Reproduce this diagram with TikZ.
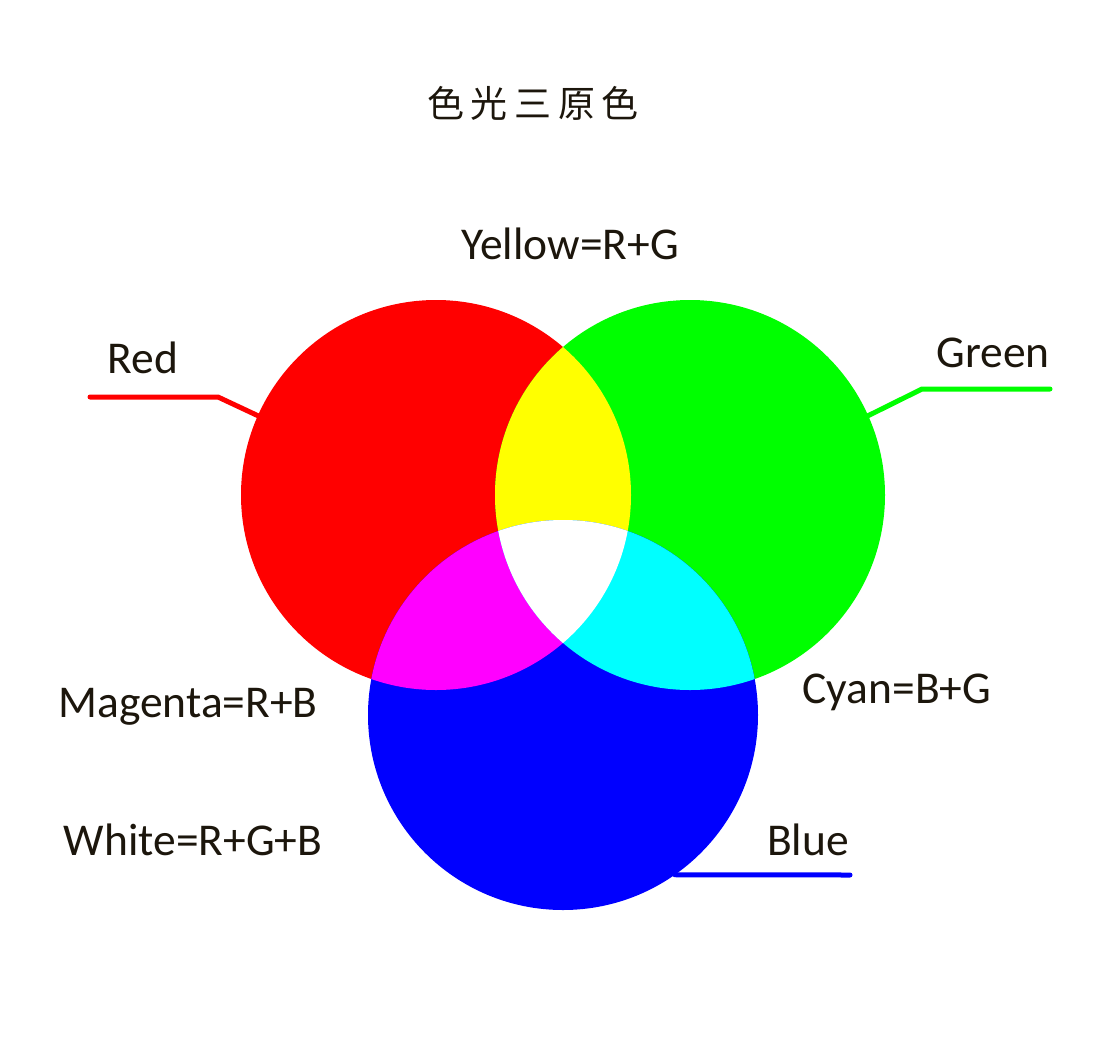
\documentclass[tikz,border=0pt]{standalone}
\usepackage{fontspec}
\setmainfont{Carlito}
\newfontfamily\cjk{Noto Sans CJK SC}
\definecolor{txt}{RGB}{28,22,12}
\definecolor{pR}{RGB}{255,0,0}
\definecolor{pG}{RGB}{0,255,0}
\definecolor{pB}{RGB}{0,0,255}
\definecolor{pY}{RGB}{255,255,0}
\definecolor{pM}{RGB}{255,0,255}
\definecolor{pC}{RGB}{0,255,255}
\tikzset{
  disk/.style={circle,draw=none,minimum size=390pt,inner sep=0pt,outer sep=0pt},
  lbl/.style={anchor=base,text=txt,inner sep=0pt,font=\fontsize{45.5}{54}\selectfont},
  leader/.style={line width=5pt,line cap=round,line join=round}
}
\begin{document}
\begin{tikzpicture}[x=1pt,y=-1pt]
\useasboundingbox (0,0) rectangle (1103,1050);
\fill[white] (0,0) rectangle (1103,1050);
% circles
\node[disk,fill=pR] (R) at (436,495) {};
\node[disk,fill=pG] (G) at (690,495) {};
\node[disk,fill=pB] (B) at (563,715) {};
% overlaps
\begin{scope}
  \clip (R.center) circle (195);
  \fill[pY] (G.center) circle (195);
\end{scope}
\begin{scope}
  \clip (R.center) circle (195);
  \fill[pM] (B.center) circle (195);
\end{scope}
\begin{scope}
  \clip (G.center) circle (195);
  \fill[pC] (B.center) circle (195);
\end{scope}
\begin{scope}
  \clip (R.center) circle (195);
  \clip (G.center) circle (195);
  \fill[white] (B.center) circle (195);
\end{scope}
% title
\node[anchor=center,text=txt,inner sep=0pt,font=\cjk\fontsize{37}{42}\selectfont] (title) at (533,103) {色\kern6.5pt 光\kern6.5pt 三\kern6.5pt 原\kern6.5pt 色};
% labels
\node[lbl] (lY) at (570,259) {Yellow=R+G};
\node[lbl] (lR) at (143,373) {Red};
\node[lbl] (lG) at (993,367) {Green};
\node[lbl] (lM) at (188,717) {Magenta=R+B};
\node[lbl] (lC) at (897,703) {Cyan=B+G};
\node[lbl] (lW) at (193,855) {White=R+G+B};
\node[lbl] (lB) at (808,855) {Blue};
% leader lines
\coordinate (rEnd) at (90,397);
\coordinate (rBend) at (218,397);
\coordinate (gEnd) at (1050,389);
\coordinate (gBend) at (922,389);
\coordinate (bEnd) at (850,875);
\draw[leader,pR] (rEnd) -- (rBend) -- (R.156);
\draw[leader,pG] (gEnd) -- (gBend) -- (G.24);
\draw[leader,pB] (bEnd) -- (B.-55);
\end{tikzpicture}
\end{document}
